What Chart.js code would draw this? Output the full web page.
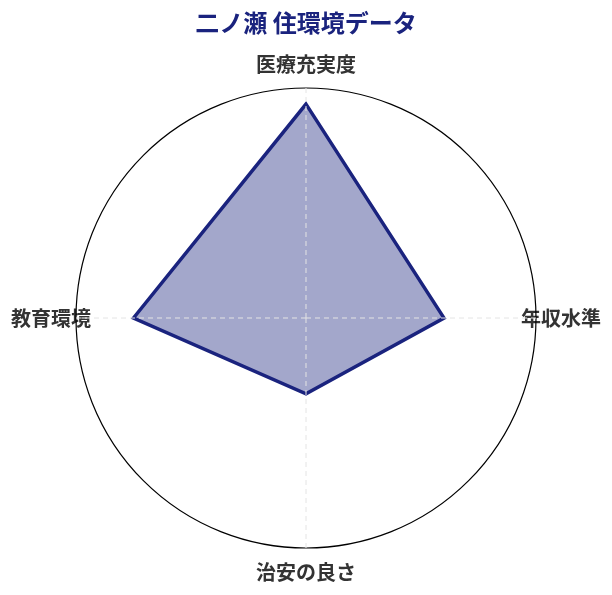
<!DOCTYPE html>
<html lang="ja">
<head>
<meta charset="utf-8">
<script src="https://cdn.jsdelivr.net/npm/chart.js@4/dist/chart.umd.min.js"></script>
<style>
  html, body { margin: 0; padding: 0; background: #ffffff; }
  #wrap { width: 612px; height: 595px; }
</style>
</head>
<body>
<div id="wrap"><canvas id="chart" width="612" height="595"></canvas></div>
<script>
const titleText = "二ノ瀬 住環境データ";
const categories = ["医療充実度", "年収水準", "治安の良さ", "教育環境"];
const values = [93, 60, 33, 75];
const scaleMin = 0;
const scaleMax = 100;

const navy = "#1a237e";
const FONT = "'Noto Sans CJK JP', 'Noto Sans', sans-serif";

new Chart(document.getElementById("chart"), {
  type: "radar",
  data: {
    labels: categories,
    datasets: [{
      label: titleText,
      data: values,
      backgroundColor: "rgba(26, 35, 126, 0.4)",
      borderColor: navy,
      borderWidth: 3.5,
      pointRadius: 0,
      pointHoverRadius: 0,
      fill: true
    }]
  },
  options: {
    responsive: false,
    animation: false,
    devicePixelRatio: 1,
    layout: { padding: { top: 0, bottom: 11, left: 0, right: 0 } },
    plugins: {
      legend: { display: false },
      tooltip: { enabled: false },
      title: {
        display: true,
        text: titleText,
        color: navy,
        font: { family: FONT, size: 24, weight: "bold" },
        padding: { top: 8.1, bottom: 15.1 }
      }
    },
    scales: {
      r: {
        min: scaleMin,
        max: scaleMax,
        ticks: { display: false, stepSize: 20 },
        grid: {
          z: 1,
          circular: true,
          color: (ctx) => (ctx.tick && ctx.tick.value === scaleMax) ? "#000000" : "rgba(0,0,0,0)",
          lineWidth: 1.2
        },
        angleLines: {
          display: true,
          color: "#e4e4e4",
          lineWidth: 1,
          borderDash: [5, 4]
        },
        pointLabels: {
          color: "#333333",
          font: { family: FONT, size: 20, weight: "bold" },
          padding: (ctx) => (ctx.index % 2 === 0) ? 12 : -15
        }
      }
    }
  }
});
</script>
</body>
</html>
